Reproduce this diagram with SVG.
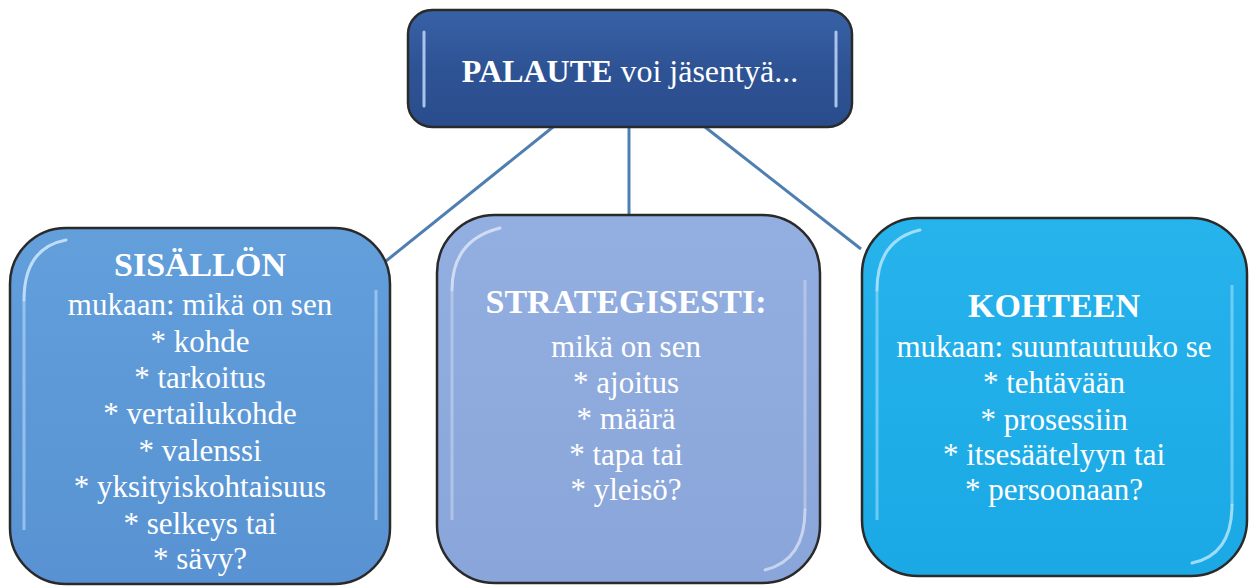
<svg xmlns="http://www.w3.org/2000/svg" width="1249" height="588" viewBox="0 0 1249 588">
<defs>
<style>
text{font-family:"Liberation Serif","Times New Roman",serif;fill:#ffffff;text-anchor:middle}
.b{font-weight:bold}
.h{font-family:"Liberation Serif","Times New Roman",serif;font-size:34px;font-weight:bold}
.t{font-family:"Liberation Serif","Times New Roman",serif;font-size:31px}
.box{stroke:#2a2a2a;stroke-width:2.5}
.gl{fill:none;stroke-width:3;stroke-linecap:round}
.con{stroke:#4f7fb0;stroke-width:3;fill:none}
</style>
<linearGradient id="gTop" x1="0" y1="0" x2="0" y2="1">
<stop offset="0" stop-color="#3862a6"/><stop offset="0.5" stop-color="#2e5395"/><stop offset="1" stop-color="#2a4c8c"/>
</linearGradient>
<linearGradient id="gL" x1="0" y1="0" x2="0" y2="1">
<stop offset="0" stop-color="#629fdb"/><stop offset="1" stop-color="#5892d2"/>
</linearGradient>
<linearGradient id="gM" x1="0" y1="0" x2="0" y2="1">
<stop offset="0" stop-color="#93aee0"/><stop offset="1" stop-color="#8aa5d9"/>
</linearGradient>
<linearGradient id="gR" x1="0" y1="0" x2="0" y2="1">
<stop offset="0" stop-color="#27b3ec"/><stop offset="1" stop-color="#1aa9e5"/>
</linearGradient>
</defs>

<g id="connectors">
<line class="con" x1="553" y1="127" x2="386" y2="261"/>
<line class="con" x1="629" y1="127" x2="629" y2="215"/>
<line class="con" x1="705" y1="127" x2="861" y2="249"/>
</g>

<g id="top">
<rect class="box" x="408" y="10" width="444" height="117" rx="24" fill="url(#gTop)"/>
<line x1="424" y1="32" x2="424" y2="106" stroke="#a9c4ec" stroke-width="3" stroke-linecap="round"/>
<line x1="836" y1="32" x2="836" y2="106" stroke="#a9c4ec" stroke-width="3" stroke-linecap="round"/>
<text x="630" y="82" font-family="Liberation Serif, Times New Roman, serif" font-size="32"><tspan class="b">PALAUTE</tspan> voi jäsentyä...</text>
</g>

<g id="left" font-family="Liberation Serif, serif">
<rect class="box" x="10" y="228" width="380" height="356" rx="56" fill="url(#gL)"/>
<path class="gl" d="M24 300 Q24 248 66 240" stroke="#d6ecff" opacity="0.8"/>
<line x1="24" y1="300" x2="24" y2="530" stroke="#b8dcfb" stroke-width="3" opacity="0.6"/>
<line x1="376" y1="290" x2="376" y2="520" stroke="#b8dcfb" stroke-width="3" opacity="0.6"/>
<text x="200" y="276" class="h">SISÄLLÖN</text>
<text class="t" x="200" y="315">mukaan: mikä on sen</text>
<text class="t" x="200" y="352">* kohde</text>
<text class="t" x="200" y="388">* tarkoitus</text>
<text class="t" x="200" y="424">* vertailukohde</text>
<text class="t" x="200" y="461">* valenssi</text>
<text class="t" x="200" y="497">* yksityiskohtaisuus</text>
<text class="t" x="200" y="534">* selkeys tai</text>
<text class="t" x="200" y="569">* sävy?</text>
</g>

<g id="middle" font-family="Liberation Serif, serif">
<rect class="box" x="437" y="215" width="383" height="368" rx="58" fill="url(#gM)"/>
<path class="gl" d="M452 290 Q452 240 500 228" stroke="#dfe8f8" opacity="0.8"/>
<line x1="452" y1="290" x2="452" y2="520" stroke="#c8d6f0" stroke-width="3" opacity="0.6"/>
<line x1="805" y1="280" x2="805" y2="510" stroke="#c8d6f0" stroke-width="3" opacity="0.6"/>
<path class="gl" d="M805 510 Q805 560 765 570" stroke="#dfe8f8" opacity="0.7"/>
<text x="626" y="313" class="h">STRATEGISESTI:</text>
<text class="t" x="626" y="357">mikä on sen</text>
<text class="t" x="626" y="393">* ajoitus</text>
<text class="t" x="626" y="429">* määrä</text>
<text class="t" x="626" y="465">* tapa tai</text>
<text class="t" x="626" y="500">* yleisö?</text>
</g>

<g id="right" font-family="Liberation Serif, serif">
<rect class="box" x="862" y="218" width="385" height="358" rx="56" fill="url(#gR)"/>
<path class="gl" d="M877 290 Q877 240 920 230" stroke="#bfeaff" opacity="0.8"/>
<line x1="877" y1="290" x2="877" y2="520" stroke="#9ee0fb" stroke-width="3" opacity="0.6"/>
<line x1="1232" y1="285" x2="1232" y2="505" stroke="#9ee0fb" stroke-width="3" opacity="0.6"/>
<path class="gl" d="M1232 505 Q1232 555 1192 563" stroke="#bfeaff" opacity="0.8"/>
<text x="1054" y="317" class="h">KOHTEEN</text>
<text class="t" x="1054" y="357">mukaan: suuntautuuko se</text>
<text class="t" x="1054" y="393">* tehtävään</text>
<text class="t" x="1054" y="430">* prosessiin</text>
<text class="t" x="1054" y="465">* itsesäätelyyn tai</text>
<text class="t" x="1054" y="500">* persoonaan?</text>
</g>
</svg>
